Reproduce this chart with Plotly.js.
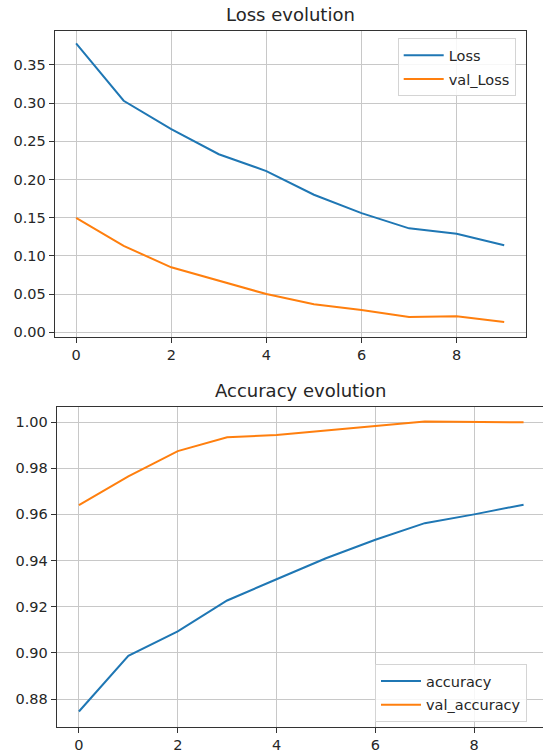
<!DOCTYPE html>
<html>
<head>
<meta charset="utf-8">
<script src="https://cdn.plot.ly/plotly-3.0.1.min.js"></script>
<style>
html, body { margin: 0; padding: 0; overflow: hidden; background: #fff; }
#chart { width: 548px; height: 753px; }
</style>
</head>
<body>
<div id="chart"></div>
<script>
// Epochs
const epochs = [0, 1, 2, 3, 4, 5, 6, 7, 8, 9];
// Loss evolution
const loss = [0.378, 0.303, 0.266, 0.233, 0.211, 0.180, 0.156, 0.136, 0.129, 0.114];
const valLoss = [0.1496, 0.113, 0.085, 0.068, 0.050, 0.0366, 0.029, 0.020, 0.021, 0.0135];
// Accuracy evolution
const accuracy = [0.8746, 0.8987, 0.9093, 0.9227, 0.9319, 0.9410, 0.9490, 0.9562, 0.9600, 0.9642];
const valAccuracy = [0.9640, 0.9765, 0.9874, 0.9934, 0.9944, 0.9962, 0.9983, 1.0003, 1.0000, 0.9999];

const W = 548, H = 753;
const BLUE = '#1f77b4', ORANGE = '#ff7f0e';
const FONT = 'DejaVu Sans, sans-serif';
const TXT = '#262626';

function px(x) { return x / W; }
function py(y) { return (H - y) / H; }

const traces = [
  { x: epochs, y: loss, name: 'Loss', type: 'scatter', mode: 'lines',
    line: { color: BLUE, width: 2 }, xaxis: 'x', yaxis: 'y', legend: 'legend', legendgroup: 'a' },
  { x: epochs, y: valLoss, name: 'val_Loss', type: 'scatter', mode: 'lines',
    line: { color: ORANGE, width: 2 }, xaxis: 'x', yaxis: 'y', legend: 'legend', legendgroup: 'b' },
  { x: epochs, y: accuracy, name: 'accuracy', type: 'scatter', mode: 'lines',
    line: { color: BLUE, width: 2 }, xaxis: 'x2', yaxis: 'y2', legend: 'legend2', legendgroup: 'c' },
  { x: epochs, y: valAccuracy, name: 'val_accuracy', type: 'scatter', mode: 'lines',
    line: { color: ORANGE, width: 2 }, xaxis: 'x2', yaxis: 'y2', legend: 'legend2', legendgroup: 'd' }
];

const axisCommon = {
  showline: true, mirror: true, linecolor: '#333', linewidth: 1,
  showgrid: true, gridcolor: '#c8c8c8', gridwidth: 1,
  zeroline: false, ticks: 'outside', ticklen: 5, tickwidth: 1, tickcolor: '#333',
  tickfont: { family: FONT, size: 14.5, color: TXT }, fixedrange: true
};

const legendCommon = {
  bgcolor: 'rgba(255,255,255,0.85)', bordercolor: '#d4d4d4', borderwidth: 1,
  font: { family: FONT, size: 14.5, color: TXT }, xanchor: 'left', yanchor: 'top',
  tracegroupgap: 2, traceorder: 'grouped', itemwidth: 40
};

const layout = {
  width: W, height: H,
  margin: { l: 0, r: 0, t: 0, b: 0 },
  paper_bgcolor: '#fff', plot_bgcolor: '#fff',
  showlegend: true,
  xaxis: Object.assign({}, axisCommon, { domain: [px(54.7), px(525.6)], range: [-0.45, 9.45], dtick: 2, tick0: 0, anchor: 'y' }),
  yaxis: Object.assign({}, axisCommon, { domain: [py(336.7), py(31)], range: [-0.0058, 0.3943], dtick: 0.05, tick0: 0, tickformat: '.2f', anchor: 'x' }),
  xaxis2: Object.assign({}, axisCommon, { domain: [px(56.7), px(545.8)], range: [-0.45, 9.45], dtick: 2, tick0: 0, anchor: 'y2' }),
  yaxis2: Object.assign({}, axisCommon, { domain: [py(726.7), py(407.3)], range: [0.868, 1.0064], dtick: 0.02, tick0: 0, tickformat: '.2f', anchor: 'x2' }),
  legend: Object.assign({}, legendCommon, { x: px(397.7), y: py(38.3) }),
  legend2: Object.assign({}, legendCommon, { x: px(375), y: py(664) }),
  annotations: [
    { text: 'Loss evolution', xref: 'paper', yref: 'paper', x: px(290), y: py(15), xanchor: 'center', yanchor: 'middle',
      showarrow: false, font: { family: FONT, size: 18, color: TXT } },
    { text: 'Accuracy evolution', xref: 'paper', yref: 'paper', x: px(301), y: py(390.5), xanchor: 'center', yanchor: 'middle',
      showarrow: false, font: { family: FONT, size: 18, color: TXT } }
  ]
};

Plotly.newPlot('chart', traces, layout, { staticPlot: true, displayModeBar: false });
</script>
</body>
</html>
